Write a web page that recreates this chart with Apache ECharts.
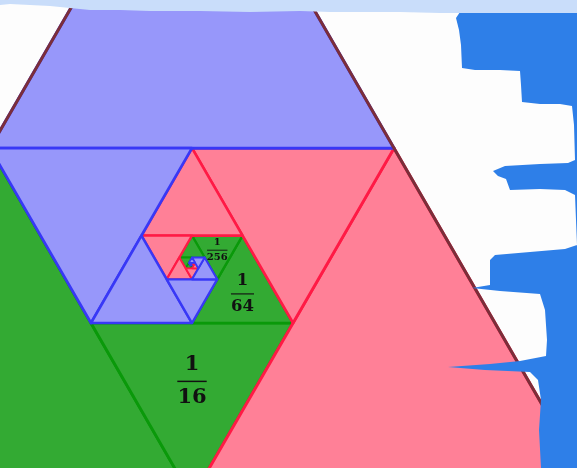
<!DOCTYPE html>
<html><head><meta charset="utf-8">
<script src="https://cdn.jsdelivr.net/npm/echarts@6/dist/echarts.min.js"></script>
<style>html,body{margin:0;padding:0;background:#fdfdfd}#c{width:577px;height:468px}</style>
</head><body><div id="c"></div>
<script>
// ---------- data ----------
const outerTriangle = [[0.5, 0.8660254], [0, 0], [1, 0]]; // top, bottom-left, bottom-right (side = 1)
const cornerColors = ['blue', 'green', 'pink'];           // colour of the corner piece at each vertex
const recursionDepth = 9;
const labelLevels = [2, 3, 4];
const labelTexts = ['1/16', '1/64', '1/256'];
const viewX = [0.26238, 0.97649];
const viewY = [0.03713, 0.61634];

// ---------- styles ----------
const fills = {blue: '#9797fa', green: '#33aa33', pink: '#ff8097'};
const strokes = {blue: '#3838f6', green: '#0a990a', pink: '#ff1a45'};
const drawOrder = ['green', 'pink', 'blue'];
const outlineColor = '#7b2e3a';
const labelFontSizes = [21, 16.5, 10];

function mid(p, q) { return [(p[0] + q[0]) / 2, (p[1] + q[1]) / 2]; }
const pieces = [];
let T = outerTriangle;
for (let lvl = 1; lvl <= recursionDepth; lvl++) {
  const [A, B, C] = T;
  const mAB = mid(A, B), mBC = mid(B, C), mCA = mid(C, A);
  pieces.push({lvl, color: cornerColors[0], pts: [A, mAB, mCA]});
  pieces.push({lvl, color: cornerColors[1], pts: [B, mBC, mAB]});
  pieces.push({lvl, color: cornerColors[2], pts: [C, mCA, mBC]});
  T = [mAB, mBC, mCA];
}
const triData = [];
drawOrder.forEach(col => {
  pieces.filter(p => p.color === col).forEach(p => {
    triData.push([p.pts[0][0], p.pts[0][1], p.pts[1][0], p.pts[1][1], p.pts[2][0], p.pts[2][1], drawOrder.indexOf(col), p.lvl]);
  });
});
const labelData = labelLevels.map((lv, i) => {
  const g = pieces.find(p => p.lvl === lv && p.color === 'green');
  const cx = (g.pts[0][0] + g.pts[1][0] + g.pts[2][0]) / 3;
  const cy = (g.pts[0][1] + g.pts[1][1] + g.pts[2][1]) / 3;
  return [cx, cy, i];
});
const outlineData = [[outerTriangle[0][0], outerTriangle[0][1], outerTriangle[1][0], outerTriangle[1][1], outerTriangle[2][0], outerTriangle[2][1]]];

const chart = echarts.init(document.getElementById('c'), null, {renderer: 'canvas'});
const blueEdge = [[463,0],[460,12],[456,18],[459,30],[461,45],[462,68],[475,70],[500,70],[520,71],[521,85],[522,102],[540,104],[560,104],[572,106],[574,125],[575,160],[568,163],[540,164],[505,166],[493,171],[498,176],[506,179],[510,190],[540,189],[565,190],[575,195],[576,220],[577,245],[565,249],[530,252],[495,255],[490,260],[490,285],[472,288],[500,291],[540,294],[545,310],[547,340],[546,356],[520,361],[490,364],[448,367],[485,370],[530,372],[538,380],[541,400],[539,430],[541,468],[577,468],[577,0]];
const topStrip = [[0,0],[577,0],[577,13],[460,13],[440,13],[400,12],[330,12],[300,11],[250,12],[200,11],[150,11],[120,10],[90,10],[70,8],[50,6],[30,5],[10,4],[0,5]];

chart.setOption({
  backgroundColor: '#fdfdfd',
  animation: false,
  grid: {left: 0, right: 0, top: 0, bottom: 0},
  xAxis: {type: 'value', min: viewX[0], max: viewX[1], show: false},
  yAxis: {type: 'value', min: viewY[0], max: viewY[1], show: false},
  graphic: {elements: [
    {type: 'polygon', z: 100, silent: true, shape: {points: blueEdge}, style: {fill: '#2e7fe8'}},
    {type: 'polygon', z: 101, silent: true, shape: {points: topStrip}, style: {fill: '#c9ddfa'}}
  ]},
  series: [
    {
      type: 'custom', clip: true, z: 2,
      data: triData,
      encode: {x: [0, 2, 4], y: [1, 3, 5]},
      renderItem(params, api) {
        const a = api.coord([api.value(0), api.value(1)]);
        const b = api.coord([api.value(2), api.value(3)]);
        const c = api.coord([api.value(4), api.value(5)]);
        const col = drawOrder[api.value(6)];
        const lvl = api.value(7);
        const lw = Math.max(1.4, 3 - 0.22 * (lvl - 1));
        return {type: 'polygon', shape: {points: [a, b, c]},
          style: {fill: fills[col], stroke: strokes[col], lineWidth: lw, lineJoin: 'round'}};
      }
    },
    {
      type: 'custom', clip: true, z: 3,
      data: outlineData,
      encode: {x: [0, 2, 4], y: [1, 3, 5]},
      renderItem(params, api) {
        const a = api.coord([api.value(0), api.value(1)]);
        const b = api.coord([api.value(2), api.value(3)]);
        const c = api.coord([api.value(4), api.value(5)]);
        return {type: 'polygon', shape: {points: [a, b, c]},
          style: {fill: null, stroke: outlineColor, lineWidth: 3}};
      }
    },
    {
      type: 'custom', clip: true, z: 4,
      data: labelData,
      encode: {x: 0, y: 1},
      renderItem(params, api) {
        const p = api.coord([api.value(0), api.value(1)]);
        const i = api.value(2);
        const fs = labelFontSizes[i];
        const parts = labelTexts[i].split('/');
        const bw = parts[1].length * 0.64 * fs + 0.12 * fs;
        const bh = Math.max(0.9, fs * 0.07);
        const font = {fontSize: fs, fontWeight: 'bold', fontFamily: 'DejaVu Serif', fill: '#111', align: 'center', verticalAlign: 'middle'};
        return {type: 'group', children: [
          {type: 'text', style: Object.assign({text: parts[0], x: p[0], y: p[1] - 0.78 * fs}, font)},
          {type: 'rect', shape: {x: p[0] - bw / 2, y: p[1] - bh / 2, width: bw, height: bh}, style: {fill: '#111'}},
          {type: 'text', style: Object.assign({text: parts[1], x: p[0], y: p[1] + 0.76 * fs}, font)}
        ]};
      }
    }
  ]
});
</script></body></html>
